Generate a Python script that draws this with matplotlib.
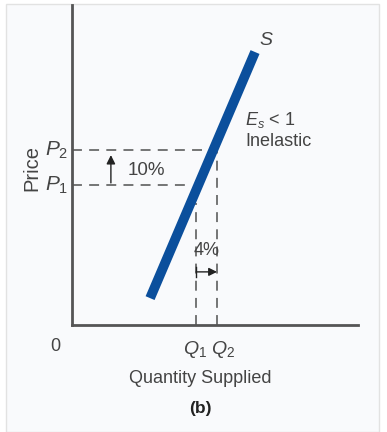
import matplotlib
matplotlib.use("Agg")
import matplotlib.pyplot as plt
from matplotlib.patches import Rectangle

plt.rcParams['font.family'] = ['Liberation Sans', 'DejaVu Sans']
plt.rcParams['mathtext.fontset'] = 'custom'
plt.rcParams['mathtext.rm'] = 'Liberation Sans'
plt.rcParams['mathtext.it'] = 'Liberation Sans:italic'

# supply curve endpoints (quantity, price)
supply_q = [2.73, 6.40]
supply_p = [0.84, 8.53]
# price and quantity levels
p1, p2 = 4.375, 5.47
q1, q2 = 4.34, 5.07
price_labels = ['$P_1$', '$P_2$']
qty_labels = ['$Q_1$', '$Q_2$']
pct_price = '10%'
pct_qty = '4%'

txt = '#444444'
dash = '#6a6a6a'

fig = plt.figure(figsize=(3.87, 4.32), dpi=100)
fig.patch.set_facecolor('white')
fig.patches.append(Rectangle((6/387, 0), 373/387, 428/432, transform=fig.transFigure,
                             facecolor='#f9fafc', edgecolor='#e2e2e2', lw=1, zorder=-5))

ax = fig.add_axes([72/387, 107/432, 286/387, 320/432])
ax.set_zorder(2)
ax.set_xlim(0, 10)
ax.set_ylim(0, 10)
ax.patch.set_alpha(0)
for s in ['top', 'right']:
    ax.spines[s].set_visible(False)
for s in ['left', 'bottom']:
    ax.spines[s].set_color('#555555')
    ax.spines[s].set_linewidth(2)
ax.set_xticks([])
ax.set_yticks([])

dkw = dict(color=dash, lw=1.3, dashes=(5.5, 4))
# dashed guide lines
ax.plot([0, q2], [p2, p2], **dkw)
ax.plot([0, 4.2], [p1, p1], **dkw)
ax.plot([q2, q2], [0, p2], **dkw)
ax.plot([q1, q1], [0, 3.8], **dkw)

# supply curve
ax.plot(supply_q, supply_p, color='#0b4f9c', lw=7, solid_capstyle='butt')

# 10% arrow
ax.annotate('', xy=(1.36, 5.31), xytext=(1.36, 4.44),
            arrowprops=dict(arrowstyle='-|>', color='#222222', lw=1, mutation_scale=13,
                            shrinkA=0, shrinkB=0))
ax.text(1.96, 4.84, pct_price, fontsize=13.5, color=txt, va='center', ha='left')

# 4% arrow
ax.annotate('', xy=(q2, 1.66), xytext=(q1, 1.66),
            arrowprops=dict(arrowstyle='-|>', color='#222222', lw=1, mutation_scale=12,
                            shrinkA=0, shrinkB=0))
ax.plot([q1, q1], [1.5, 1.82], color='#222222', lw=1)
ax.text((q1 + q2) / 2, 2.34, pct_qty, fontsize=13, color=txt, va='center', ha='center')

# curve labels
ax.text(6.55, 8.9, '$S$', fontsize=14, color=txt, va='center', ha='left')
ax.text(6.05, 6.4, '$E_s$ < 1', fontsize=13, color=txt, va='center', ha='left')
ax.text(6.05, 5.72, 'Inelastic', fontsize=13, color=txt, va='center', ha='left')

# axis labels
for y, lab in zip([p1, p2], price_labels):
    ax.text(-0.55, y, lab, fontsize=15, color=txt, va='center', ha='center', clip_on=False)
for x, lab in zip([q1 - 0.05, q2 + 0.2], qty_labels):
    ax.text(x, -0.78, lab, fontsize=14, color=txt, va='center', ha='center', clip_on=False)
ax.text(-0.6, -0.66, '0', fontsize=13, color=txt, va='center', ha='center', clip_on=False)
ax.text(-1.4, 4.9, 'Price', fontsize=14.5, color=txt, va='center', ha='center',
        rotation=90, clip_on=False)
ax.text(4.48, -1.66, 'Quantity Supplied', fontsize=13, color=txt, va='center',
        ha='center', clip_on=False)
ax.text(4.48, -2.6, '(b)', fontsize=12.5, color='#222222', fontweight='bold', va='center',
        ha='center', clip_on=False)

fig.savefig('out.png', dpi=100, facecolor=fig.get_facecolor())
